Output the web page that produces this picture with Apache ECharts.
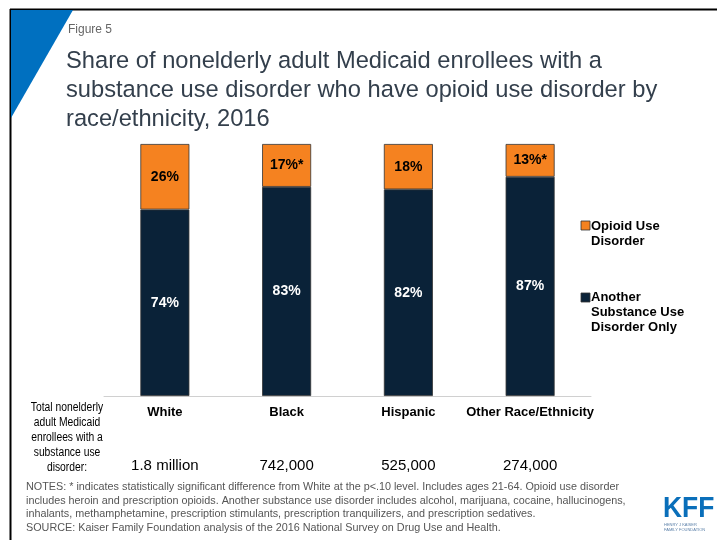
<!DOCTYPE html>
<html><head><meta charset="utf-8">
<script src="https://cdn.jsdelivr.net/npm/echarts@6/dist/echarts.min.js"></script>
<style>html,body{margin:0;padding:0;background:#fff;}#c{width:717px;height:540px;}</style>
</head><body><div id="c"></div>
<script>
var categories = ['White', 'Black', 'Hispanic', 'Other Race/Ethnicity'];
var totals = ['1.8 million', '742,000', '525,000', '274,000'];
var otherSUD = [74, 83, 82, 87];
var opioid = [26, 17, 18, 13];
var opioidLabels = ['26%', '17%*', '18%', '13%*'];
var otherLabels = ['74%', '83%', '82%', '87%'];

var chart = echarts.init(document.getElementById('c'));
var font = "'Liberation Sans', Arial, sans-serif";
chart.setOption({
  animation: false,
  grid: {left: 104, right: 126, top: 144, bottom: 144},
  xAxis: [{
    type: 'category', data: categories,
    axisLine: {lineStyle: {color: '#d0d0d0', width: 1}},
    axisTick: {show: false},
    axisLabel: {interval: 0, fontFamily: font, fontWeight: 'bold', fontSize: 13, color: '#000', margin: 10}
  }, {
    type: 'category', data: totals, position: 'bottom', offset: 52,
    axisLine: {show: false}, axisTick: {show: false},
    axisLabel: {interval: 0, fontFamily: font, fontSize: 15, color: '#000', margin: 10}
  }],
  yAxis: {type: 'value', min: 0, max: 100, show: false},
  series: [{
    name: 'Another Substance Use Disorder Only', type: 'bar', stack: 's', barWidth: 49,
    data: otherSUD,
    itemStyle: {color: '#0a2238', borderColor: '#333', borderWidth: 0.8},
    label: {show: true, position: 'inside', fontFamily: font, fontWeight: 'bold', fontSize: 14, color: '#fff',
      formatter: function (p) { return otherLabels[p.dataIndex]; }}
  }, {
    name: 'Opioid Use Disorder', type: 'bar', stack: 's', barWidth: 49,
    data: opioid,
    itemStyle: {color: '#f58220', borderColor: '#333', borderWidth: 0.8},
    label: {show: true, position: 'inside', fontFamily: font, fontWeight: 'bold', fontSize: 14, color: '#000',
      formatter: function (p) { return opioidLabels[p.dataIndex]; }}
  }],
  graphic: [
    {type: 'line', shape: {x1: 10, y1: 9.5, x2: 717, y2: 9.5}, style: {stroke: '#000', lineWidth: 2}},
    {type: 'line', shape: {x1: 10.5, y1: 9, x2: 10.5, y2: 540}, style: {stroke: '#000', lineWidth: 2}},
    {type: 'polygon', shape: {points: [[11, 10], [73, 10], [11, 118]]}, style: {fill: '#0070c0'}},
    {type: 'text', x: 68, y: 24, style: {text: 'Figure 5', font: '12px ' + font, fill: '#666'}},
    {type: 'text', x: 66, y: 47, style: {text: 'Share of nonelderly adult Medicaid enrollees with a\nsubstance use disorder who have opioid use disorder by\nrace/ethnicity, 2016', font: '23.7px ' + font, fill: '#333f4c', lineHeight: 29}},
    {type: 'text', x: 67, y: 400, scaleX: 0.86, style: {text: 'Total nonelderly\nadult Medicaid\nenrollees with a\nsubstance use\ndisorder:', font: '12px ' + font, fill: '#000', lineHeight: 15, align: 'center'}},
    {type: 'rect', shape: {x: 581, y: 221, width: 9, height: 9}, style: {fill: '#f58220', stroke: '#333', lineWidth: 0.8}},
    {type: 'text', x: 591, y: 219, style: {text: 'Opioid Use\nDisorder', font: 'bold 13px ' + font, fill: '#000', lineHeight: 15}},
    {type: 'rect', shape: {x: 581, y: 293, width: 9, height: 9}, style: {fill: '#0a2238', stroke: '#333', lineWidth: 0.8}},
    {type: 'text', x: 591, y: 290, style: {text: 'Another\nSubstance Use\nDisorder Only', font: 'bold 13px ' + font, fill: '#000', lineHeight: 15}},
    {type: 'text', x: 26, y: 480, style: {text: 'NOTES: * indicates statistically significant difference from White at the p<.10 level. Includes ages 21-64. Opioid use disorder\nincludes heroin and prescription opioids. Another substance use disorder includes alcohol, marijuana, cocaine, hallucinogens,\ninhalants, methamphetamine, prescription stimulants, prescription tranquilizers, and prescription sedatives.\nSOURCE: Kaiser Family Foundation analysis of the 2016 National Survey on Drug Use and Health.', font: '10.8px ' + font, fill: '#555', lineHeight: 13.8}},
    {type: 'text', x: 663, y: 494, scaleX: 0.88, style: {text: 'KFF', font: 'bold 30px ' + font, fill: '#0a6fba'}},
    {type: 'text', x: 664, y: 522, style: {text: 'HENRY J KAISER\nFAMILY FOUNDATION', font: '4px ' + font, fill: '#5a7fa8', lineHeight: 5}}
  ]
});
</script></body></html>
